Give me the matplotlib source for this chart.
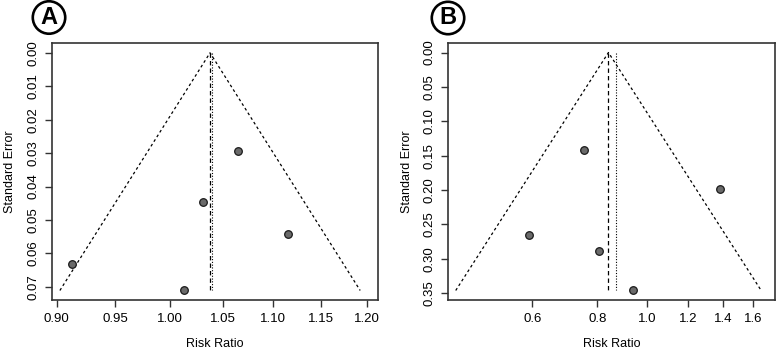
import numpy as np
import matplotlib
matplotlib.use('Agg')
import matplotlib.pyplot as plt
from matplotlib.ticker import FixedLocator, NullLocator

plt.rcParams['font.family'] = ['Liberation Sans', 'DejaVu Sans']

# Panel A: risk ratios and standard errors
rr_a = [1.065, 1.0306, 1.1158, 0.9126, 1.0129]
se_a = [0.0293, 0.0447, 0.0541, 0.0632, 0.0711]
pooled_a = 1.0376
second_a = 1.0395
xticks_a = [0.90, 0.95, 1.00, 1.05, 1.10, 1.15, 1.20]
yticks_a = [0.00, 0.01, 0.02, 0.03, 0.04, 0.05, 0.06, 0.07]

# Panel B
rr_b = [0.755, 1.380, 0.591, 0.807, 0.938]
se_b = [0.1416, 0.1988, 0.266, 0.2883, 0.346]
pooled_b = 0.841
second_b = 0.869
xticks_b = [0.6, 0.8, 1.0, 1.2, 1.4, 1.6]
yticks_b = [0.00, 0.05, 0.10, 0.15, 0.20, 0.25, 0.30, 0.35]

W, H = 778, 353
fig = plt.figure(figsize=(W / 100, H / 100), dpi=100)


def box(l, t, r, b):
    return [l / W, 1 - b / H, (r - l) / W, (b - t) / H]


def funnel(ax, rr, se, pooled, second, xticks, yticks, xfmt, xlim, label, lx, ly):
    maxse = max(se)
    ax.plot([pooled * np.exp(-1.96 * maxse), pooled, pooled * np.exp(1.96 * maxse)],
            [maxse, 0, maxse], color='black', lw=0.9, ls=(0, (2.2, 2.2)))
    ax.plot([pooled, pooled], [0, maxse], color='black', lw=0.9, ls=(0, (3.5, 2.5)))
    ax.plot([second, second], [0, maxse], color='black', lw=0.8, ls=(0, (1, 1.5)))
    ax.scatter(rr, se, s=30, color='#6a6a6a', edgecolors='#1a1a1a', linewidths=0.9, zorder=3)

    ax.set_xscale('log')
    ax.xaxis.set_major_locator(FixedLocator(xticks))
    ax.xaxis.set_minor_locator(NullLocator())
    ax.set_xticklabels([xfmt.format(v) for v in xticks])
    ax.set_xlim(*xlim)
    ylo = -0.04 * maxse
    yhi = maxse * 1.04
    ax.set_ylim(yhi, ylo)
    ax.set_yticks(yticks)
    ax.set_yticklabels(['{:.2f}'.format(v) for v in yticks], rotation=90, va='center')

    for sp in ax.spines.values():
        sp.set_linewidth(1.2)
        sp.set_color('#333333')
    ax.tick_params(direction='out', length=5, width=1, color='#333333',
                   labelsize=9.5, pad=4)
    ax.set_xlabel('Risk Ratio', fontsize=9, labelpad=10)
    ax.set_ylabel('Standard Error', fontsize=9, labelpad=8)

    fig.text(lx / W, 1 - ly / H, label, fontsize=17, fontweight='bold',
             ha='center', va='center',
             bbox=dict(boxstyle='circle,pad=0.2', fc='white', ec='black', lw=1.9))


ax1 = fig.add_axes(box(51.7, 43.3, 377.7, 300))
funnel(ax1, rr_a, se_a, pooled_a, second_a, xticks_a, yticks_a, '{:.2f}',
       (0.8958, 1.2123), 'A', 49, 17.5)

ax2 = fig.add_axes(box(448.3, 43, 775, 300))
funnel(ax2, rr_b, se_b, pooled_b, second_b, xticks_b, yticks_b, '{:.1f}',
       (0.413, 1.762), 'B', 448, 18)

fig.savefig('out.png', dpi=100)
